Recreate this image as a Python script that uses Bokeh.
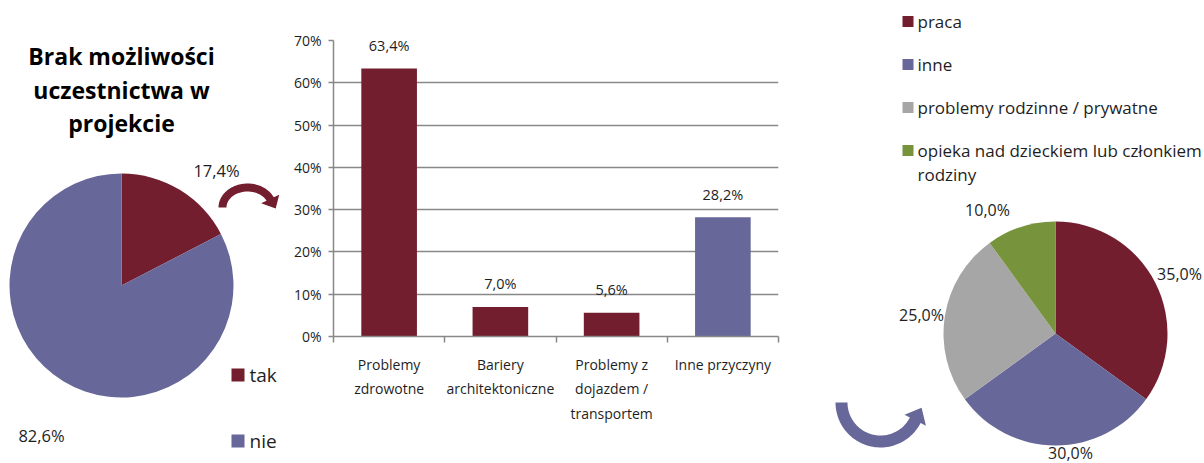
import numpy as np
from bokeh.plotting import figure
from bokeh.layouts import row
from bokeh.models import Range1d, FixedTicker, PrintfTickFormatter
from bokeh.core.properties import value
from bokeh.embed import file_html
from bokeh.resources import INLINE

# ---- data -------------------------------------------------------------
title_lines = ["Brak możliwości", "uczestnictwa w", "projekcie"]
main_labels = ["tak", "nie"]
main_values = [17.4, 82.6]

reason_labels = ["Problemy\nzdrowotne", "Bariery\narchitektoniczne",
                 "Problemy z\ndojazdem /\ntransportem", "Inne przyczyny"]
reason_values = [63.4, 7.0, 5.6, 28.2]
y_ticks = [0, 10, 20, 30, 40, 50, 60, 70]

other_labels = ["praca", "inne", "problemy rodzinne / prywatne",
                "opieka nad dzieckiem lub członkiem\nrodziny"]
other_values = [35.0, 30.0, 25.0, 10.0]

# ---- style ------------------------------------------------------------
RED = "#721E2E"
BLUE = "#67679A"
GREY = "#A6A6A6"
GREEN = "#77933C"
TXT = "#1E1E1E"
FONT = value("Open Sans")
H = 463


def sy(v):
    """Convert a top-down pixel row into the y-up canvas coordinate."""
    return H - v


def fmt(v):
    return f"{v:.1f}".replace(".", ",") + "%"


def canvas(width, x0):
    p = figure(width=width, height=H, x_range=Range1d(x0, x0 + width),
               y_range=Range1d(0, H), output_backend="svg",
               toolbar_location=None, min_border=0, frame_align=False)
    p.axis.visible = False
    p.grid.visible = False
    p.outline_line_color = None
    p.background_fill_color = "white"
    p.border_fill_color = "white"
    return p


def pie_angles(vals):
    vals = np.asarray(vals, dtype=float)
    frac = vals / vals.sum()
    cum = np.concatenate([[0], np.cumsum(frac)])
    start = np.pi / 2 - cum[:-1] * 2 * np.pi
    end = np.pi / 2 - cum[1:] * 2 * np.pi
    return start, end


def curved_arrow(cx, cy, rx, ry, w, t0, t1, head_w, head_len, n=60):
    t = np.linspace(np.deg2rad(t0), np.deg2rad(t1), n)
    ox, oy = cx + (rx + w / 2) * np.cos(t), cy + (ry + w / 2) * np.sin(t)
    ix, iy = cx + (rx - w / 2) * np.cos(t), cy + (ry - w / 2) * np.sin(t)
    te = t[-1]
    sgn = np.sign(t1 - t0)
    tx, ty = -rx * np.sin(te) * sgn, ry * np.cos(te) * sgn
    nrm = np.hypot(tx, ty)
    tx, ty = tx / nrm, ty / nrm
    rxv, ryv = ox[-1] - ix[-1], oy[-1] - iy[-1]
    rn = np.hypot(rxv, ryv)
    rxv, ryv = rxv / rn, ryv / rn
    ext = (head_w - w) / 2
    mx, my = (ox[-1] + ix[-1]) / 2, (oy[-1] + iy[-1]) / 2
    bx_o, by_o = ox[-1] + rxv * ext, oy[-1] + ryv * ext
    bx_i, by_i = ix[-1] - rxv * ext, iy[-1] - ryv * ext
    tipx, tipy = mx + tx * head_len, my + ty * head_len
    xs = list(ox) + [bx_o, tipx, bx_i] + list(ix[::-1])
    ys = list(oy) + [by_o, tipy, by_i] + list(iy[::-1])
    return xs, ys


# ---- left: overall pie ------------------------------------------------
left = canvas(286, 0)
left.text(x=[121] * 3, y=[sy(55), sy(89), sy(122)], text=title_lines,
          text_align="center", text_baseline="middle", text_font=FONT,
          text_font_style="bold", text_font_size="23px", text_color="black")

s, e = pie_angles(main_values)
main_colors = [RED, BLUE]
left.wedge(x=121, y=sy(285), radius=112, start_angle=s, end_angle=e,
           direction="clock", fill_color=main_colors, line_color=None)

main_label_pos = [(216, 170), (41, 435)]
left.text(x=[p[0] for p in main_label_pos], y=[sy(p[1]) for p in main_label_pos],
          text=[fmt(v) for v in main_values], text_align="center",
          text_baseline="middle", text_font=FONT, text_font_size="16.5px",
          text_color=TXT)

legend_rows = [374.5, 440.5]
left.rect(x=[237.5] * 2, y=[sy(r) for r in legend_rows], width=13, height=13,
          fill_color=main_colors, line_color=None)
left.text(x=[249] * 2, y=[sy(r) for r in legend_rows], text=main_labels,
          text_baseline="middle", text_font=FONT, text_font_size="19px",
          text_color=TXT)

axs, ays = curved_arrow(247, sy(207), 25, 20, 8, 180, 25, 20, 11)
left.patch(axs, ays, fill_color=RED, line_color=None)

# ---- middle: reasons bar chart ----------------------------------------
bar = figure(width=544, height=H, x_range=Range1d(0, len(reason_values)),
             y_range=Range1d(0, 70), output_backend="svg",
             toolbar_location=None, min_border_left=47, min_border_right=52,
             min_border_top=40, min_border_bottom=127, frame_align=False)
bar.outline_line_color = None
bar.background_fill_color = "white"
bar.border_fill_color = "white"
bar.xgrid.visible = False
bar.ygrid.ticker = FixedTicker(ticks=y_ticks)
bar.ygrid.grid_line_color = "#888888"
bar.ygrid.grid_line_width = 1.5

xs = [i + 0.5 for i in range(len(reason_values))]
bar_colors = [RED, RED, RED, BLUE]
bar.vbar(x=xs, top=reason_values, width=0.5, fill_color=bar_colors,
         line_color=None)
bar.text(x=xs, y=reason_values, text=[fmt(v) for v in reason_values],
         text_align="center", text_baseline="middle", y_offset=-23,
         text_font=FONT, text_font_size="14.5px", text_color=TXT)

yax = bar.yaxis[0]
yax.ticker = FixedTicker(ticks=y_ticks)
yax.formatter = PrintfTickFormatter(format="%d%%")
yax.axis_line_color = "#888888"
yax.axis_line_width = 1.5
yax.major_tick_line_color = "#888888"
yax.major_tick_line_width = 1.5
yax.major_tick_out = 5
yax.major_tick_in = 0
yax.minor_tick_line_color = None
yax.major_label_standoff = 7
yax.major_label_text_font = "Open Sans"
yax.major_label_text_font_size = "14px"
yax.major_label_text_color = TXT

xax = bar.xaxis[0]
xax.ticker = FixedTicker(ticks=xs, minor_ticks=list(range(len(reason_values) + 1)))
xax.major_label_overrides = {x: lab for x, lab in zip(xs, reason_labels)}
xax.axis_line_color = "#888888"
xax.axis_line_width = 1.5
xax.major_tick_line_color = None
xax.major_tick_out = 0
xax.major_tick_in = 0
xax.minor_tick_line_color = "#888888"
xax.minor_tick_line_width = 1.5
xax.minor_tick_out = 6
xax.minor_tick_in = 0
xax.major_label_standoff = 12
xax.major_label_text_font = "Open Sans"
xax.major_label_text_font_size = "14px"
xax.major_label_text_color = TXT
xax.major_label_text_line_height = 1.3

# ---- right: breakdown of other reasons --------------------------------
right = canvas(374, 830)
s, e = pie_angles(other_values)
other_colors = [RED, BLUE, GREY, GREEN]
right.wedge(x=1055, y=sy(333), radius=112, start_angle=s, end_angle=e,
            direction="clock", fill_color=other_colors, line_color=None)

other_label_pos = [(1179, 273), (1070, 452), (921, 314), (987, 209)]
right.text(x=[p[0] for p in other_label_pos], y=[sy(p[1]) for p in other_label_pos],
           text=[fmt(v) for v in other_values], text_align="center",
           text_baseline="middle", text_font=FONT, text_font_size="16px",
           text_color=TXT)

leg_rows = [21, 64, 107, 150]
right.rect(x=[907.5] * 4, y=[sy(r) for r in leg_rows], width=11, height=11,
           fill_color=other_colors, line_color=None)
leg_text, leg_y = [], []
for lab, r in zip(other_labels, leg_rows):
    for k, line in enumerate(lab.split("\n")):
        leg_text.append(line)
        leg_y.append(sy(r + 24 * k))
right.text(x=[917] * len(leg_text), y=leg_y, text=leg_text,
           text_baseline="middle", text_font=FONT, text_font_size="17px",
           text_color=TXT)

bxs, bys = curved_arrow(880, sy(402), 39, 39, 12, 180, 333, 24, 14)
right.patch(bxs, bys, fill_color=BLUE, line_color=None)

layout = row(left, bar, right, spacing=0)
open("out.html", "w").write(file_html(layout, INLINE))
